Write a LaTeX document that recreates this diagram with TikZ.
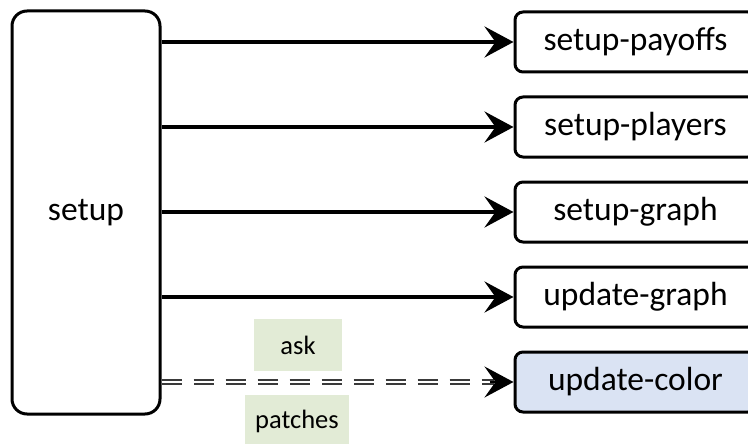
\documentclass[tikz,border=0pt]{standalone}
\usepackage{fontspec}
\setmainfont{Carlito}
\usetikzlibrary{arrows.meta}
\definecolor{lblgreen}{HTML}{E2EBD6}
\definecolor{boxblue}{HTML}{DAE3F3}
\definecolor{dashgray}{HTML}{3A3A3A}
\tikzset{
  procbox/.style={draw=black, line width=3pt, rounded corners=8pt, minimum width=241pt, minimum height=60pt, inner sep=0pt, font=\fontsize{33.5}{38}\selectfont},
  mainbox/.style={draw=black, line width=3pt, rounded corners=15pt, minimum width=148pt, minimum height=403pt, inner sep=0pt, font=\fontsize{33.5}{38}\selectfont},
  lbl/.style={fill=lblgreen, minimum height=52pt, inner sep=0pt, font=\fontsize{26.5}{30}\selectfont},
  tip/.style={-{Stealth[length=29pt, width=31pt, inset=11pt]}},
  callarrow/.style={line width=3.8pt, tip},
  dbl/.style={double=white, double distance=1.8pt, line width=1.7pt, draw=dashgray, dash pattern=on 20pt off 12pt},
}
\begin{document}
\begin{tikzpicture}[x=1pt, y=-1pt]
\useasboundingbox (0,0) rectangle (748,444);
\clip (0,0) rectangle (748,444);
\node[mainbox] (setup) at (86,212.5) {setup};
\node[procbox] (pay) at (635.5,42) {setup-payoffs};
\node[procbox] (ply) at (635.5,127) {setup-players};
\node[procbox] (grh) at (635.5,212) {setup-graph};
\node[procbox] (ugr) at (635.5,297) {update-graph};
\node[procbox, fill=boxblue] (uco) at (635.5,382) {update-color};
\node[lbl, minimum width=88pt] (ask) at (298,345) {ask};
\node[lbl, minimum width=104pt] (pat) at (297,421) {patches};
\draw[callarrow] (setup.east |- pay.west) -- (pay.west);
\draw[callarrow] (setup.east |- ply.west) -- (ply.west);
\draw[callarrow] (setup.east |- grh.west) -- (grh.west);
\draw[callarrow] (setup.east |- ugr.west) -- (ugr.west);
\draw[dbl] (setup.east |- uco.west) -- ([xshift=-20pt]uco.west);
\draw[line width=2pt, tip] ([xshift=-24pt]uco.west) -- (uco.west);
\end{tikzpicture}
\end{document}
